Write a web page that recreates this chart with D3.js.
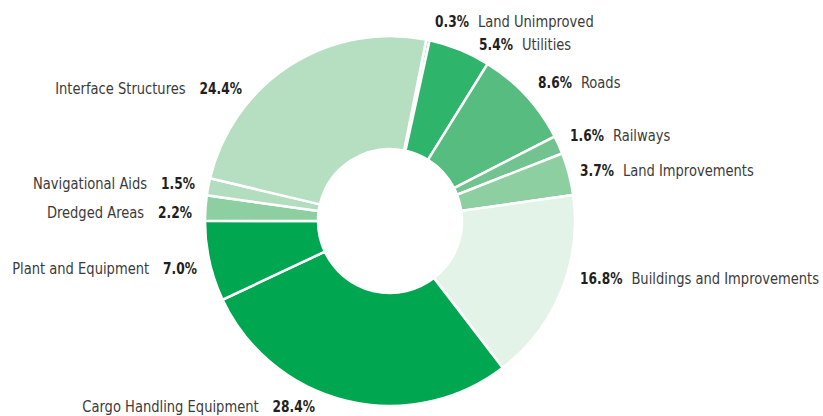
<!DOCTYPE html>
<html>
<head>
<meta charset="utf-8">
<script src="https://cdn.jsdelivr.net/npm/d3@7"></script>
<style>
  body { margin: 0; background: #fff; }
  svg text { font-family: "Liberation Sans Narrow", "DejaVu Sans Condensed", "Roboto", sans-serif; font-size: 16px; }
</style>
</head>
<body>
<div id="chart"></div>
<script>
// data, clockwise from the top
const categories = ['Land Unimproved', 'Utilities', 'Roads', 'Railways', 'Land Improvements',
  'Buildings and Improvements', 'Cargo Handling Equipment', 'Plant and Equipment',
  'Dredged Areas', 'Navigational Aids', 'Interface Structures'];
const shares = [0.3, 5.4, 8.6, 1.6, 3.7, 16.8, 28.4, 7.0, 2.2, 1.5, 24.4];
const colors = ['#b6dfc1', '#2eb56b', '#57bc7f', '#72c38f', '#8dcfa0',
  '#e3f3e7', '#00a650', '#00a650', '#8dcfa0', '#b3ddbf', '#b6dfc1'];

// label placement: [x, baseline y, side]
const labelPos = [
  [435, 27, 'r'], [479, 50, 'r'], [538, 88, 'r'], [570, 141, 'r'], [580, 176, 'r'],
  [580, 284, 'r'], [315, 412, 'l'], [197, 274, 'l'], [192, 218, 'l'], [195, 189, 'l'],
  [242, 94, 'l']
];

const width = 823, height = 416;
const cx = 390, cy = 221, outerR = 185, innerR = 72;
const start = 11.3 * Math.PI / 180;
const pctScale = 0.85, nameScale = 0.91;

const svg = d3.select('#chart').append('svg')
  .attr('width', width)
  .attr('height', height);

const pie = d3.pie().sort(null).startAngle(start).endAngle(start + 2 * Math.PI);
const arc = d3.arc().innerRadius(innerR).outerRadius(outerR);

const g = svg.append('g').attr('transform', `translate(${cx},${cy})`);

g.selectAll('path')
  .data(pie(shares))
  .join('path')
  .attr('d', arc)
  .attr('fill', (d, i) => colors[i])
  .attr('stroke', '#fff')
  .attr('stroke-width', 2.5)
  .attr('stroke-linejoin', 'miter');

// labels: percent in bold, name regular, each squeezed a bit to look condensed
categories.forEach((name, i) => {
  const [x, y, side] = labelPos[i];
  const pct = shares[i].toFixed(1) + '%';
  const lg = svg.append('g').attr('transform', `translate(${x},${y})`);

  const p = lg.append('text')
    .attr('font-weight', 'bold')
    .attr('fill', '#231f20')
    .attr('text-anchor', side === 'r' ? 'start' : 'end')
    .attr('transform', `scale(${pctScale},1)`)
    .text(pct);
  const pw = p.node().getComputedTextLength() * pctScale;

  const n = lg.append('text')
    .attr('fill', '#3b3b3b')
    .attr('text-anchor', side === 'r' ? 'start' : 'end')
    .text(name);

  if (side === 'r') {
    n.attr('transform', `translate(${pw + 9},0) scale(${nameScale},1)`);
  } else {
    n.attr('transform', `translate(${-pw - 14},0) scale(${nameScale},1)`);
  }
});
</script>
</body>
</html>
